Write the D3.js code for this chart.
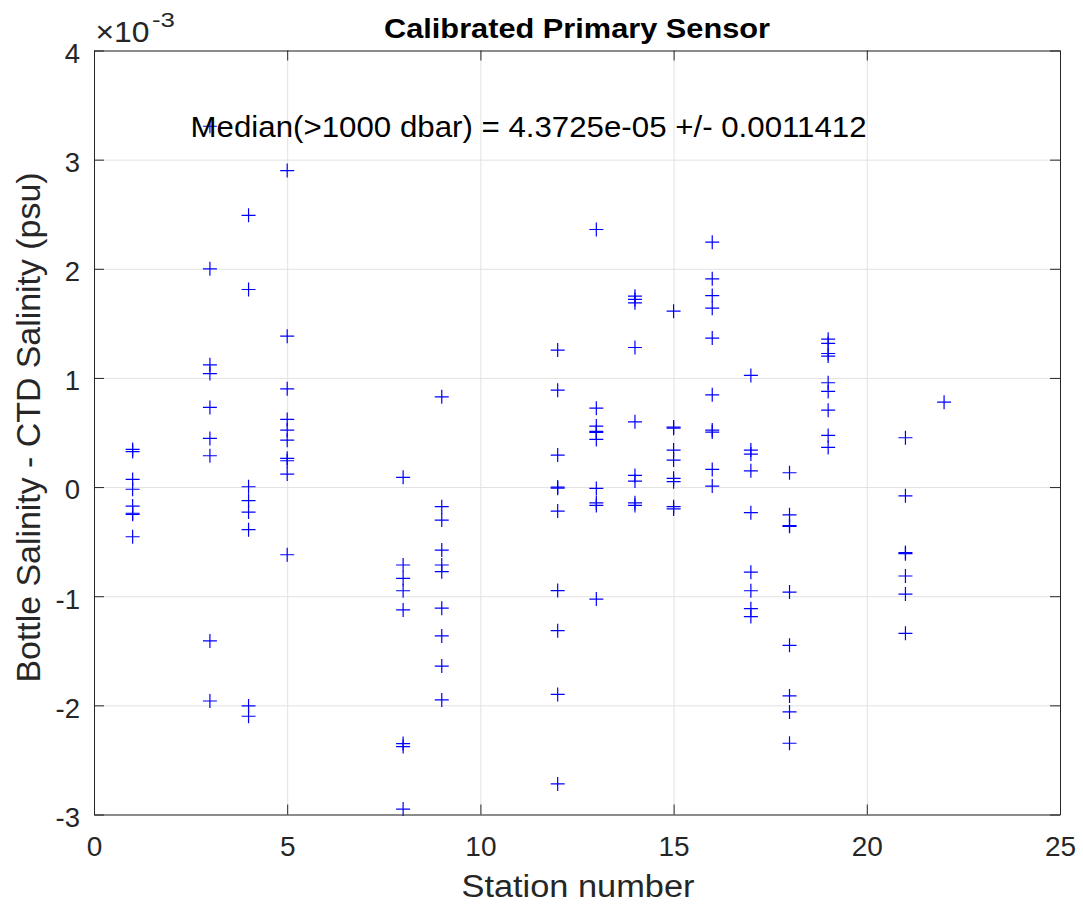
<!DOCTYPE html>
<html>
<head>
<meta charset="utf-8">
<script src="https://cdn.jsdelivr.net/npm/d3@7"></script>
<style>
  html, body { margin: 0; padding: 0; background: #fff; }
  svg { display: block; font-family: "Liberation Sans", Arial, Helvetica, sans-serif; }
</style>
</head>
<body>
<svg id="chart" width="1083" height="905"></svg>
<script>
// ---- data (values in units of 1e-3 psu) ----
const stations = [1, 3, 4, 5, 8, 9, 12, 13, 14, 15, 16, 17, 18, 19, 21, 22];
const salinityDiffs = [
  [0.345, 0.325, 0.07, -0.02, -0.174, -0.24, -0.25, -0.455],
  [3.306, 2.0, 1.12, 1.04, 0.73, 0.446, 0.287, -1.41, -1.96],
  [2.49, 1.81, 0.003, -0.125, -0.229, -0.39, -2.005, -2.10],
  [2.90, 1.383, 0.90, 0.62, 0.522, 0.43, 0.263, 0.241, 0.119, -0.62],
  [0.089, -0.714, -0.836, -0.95, -1.126, -2.35, -2.378, -2.95],
  [0.827, -0.18, -0.302, -0.577, -0.714, -0.775, -1.11, -1.364, -1.64, -1.95],
  [1.255, 0.888, 0.293, 0.0, -0.01, -0.22, -0.948, -1.316, -1.90, -2.72],
  [2.36, 0.723, 0.559, 0.51, 0.50, 0.437, -0.012, -0.144, -0.168, -1.026],
  [1.749, 1.719, 1.688, 1.279, 0.598, 0.107, 0.055, -0.144, -0.168],
  [1.612, 0.55, 0.54, 0.339, 0.247, 0.08, 0.049, -0.18, -0.20],
  [2.244, 1.908, 1.755, 1.639, 1.365, 0.845, 0.522, 0.504, 0.162, 0.009],
  [1.023, 0.339, 0.302, 0.149, -0.235, -0.78, -0.95, -1.114, -1.187],
  [0.131, -0.254, -0.354, -0.36, -0.962, -1.45, -1.914, -2.06, -2.347],
  [1.355, 1.316, 1.224, 1.20, 0.956, 0.876, 0.705, 0.473, 0.363],
  [0.452, -0.08, -0.60, -0.61, -0.815, -0.98, -1.34],
  [0.778]
];
const xTicks = [0, 5, 10, 15, 20, 25];
const yTicks = [-3, -2, -1, 0, 1, 2, 3, 4];
const xDomain = [0, 25];
const yDomain = [-3, 4];
const yExponent = "-3";
const titleText = "Calibrated Primary Sensor";
const xLabelText = "Station number";
const yLabelText = "Bottle Salinity - CTD Salinity (psu)";
const annotationText = "Median(>1000 dbar) = 4.3725e-05 +/- 0.0011412";
const annotationPos = [2.5, 3.3];

// ---- layout ----
const W = 1083, H = 905;
const margin = { left: 94, right: 23, top: 50.5, bottom: 90.5 };
const iw = W - margin.left - margin.right;
const ih = H - margin.top - margin.bottom;
const axisColor = "#262626";
const gridColor = "#e2e2e2";
const fmt = d => String(d); // plain hyphen-minus like MATLAB

const svg = d3.select("#chart");
const g = svg.append("g").attr("transform", `translate(${margin.left},${margin.top})`);

const x = d3.scaleLinear().domain(xDomain).range([0, iw]);
const y = d3.scaleLinear().domain(yDomain).range([ih, 0]);

// grid
g.append("g").attr("class", "gridx")
  .attr("transform", `translate(0,${ih})`)
  .call(d3.axisBottom(x).tickValues(xTicks).tickSize(-ih).tickFormat(""))
  .call(s => s.select(".domain").remove())
  .call(s => s.selectAll("line").attr("stroke", gridColor).attr("stroke-width", 1));
g.append("g").attr("class", "gridy")
  .call(d3.axisLeft(y).tickValues(yTicks).tickSize(-iw).tickFormat(""))
  .call(s => s.select(".domain").remove())
  .call(s => s.selectAll("line").attr("stroke", gridColor).attr("stroke-width", 1));

// points
const points = [];
stations.forEach((st, i) => salinityDiffs[i].forEach(v => points.push({ st, v })));
g.append("g").selectAll("path.pt")
  .data(points)
  .join("path")
  .attr("class", "pt")
  .attr("transform", d => `translate(${x(d.st)},${y(d.v)})`)
  .attr("d", "M-7,0H7M0,-7V7")
  .attr("stroke", "#0000ff")
  .attr("stroke-width", 1.2)
  .attr("fill", "none");

// axes (ticks inside, box)
const tickLen = 10;
const styleAxis = s => {
  s.select(".domain").attr("stroke", axisColor).attr("stroke-width", 1);
  s.selectAll(".tick line").attr("stroke", axisColor).attr("stroke-width", 1);
};
g.append("g").attr("transform", `translate(0,${ih})`)
  .call(d3.axisBottom(x).tickValues(xTicks).tickSizeInner(-tickLen).tickSizeOuter(0).tickPadding(0).tickFormat(fmt))
  .call(styleAxis)
  .call(s => s.selectAll(".tick text")
    .attr("y", 41).attr("dy", 0)
    .attr("fill", axisColor).attr("font-size", 28)
    .attr("font-family", "Liberation Sans, Arial, sans-serif"));
g.append("g")
  .call(d3.axisTop(x).tickValues(xTicks).tickSizeInner(-tickLen).tickSizeOuter(0).tickFormat(""))
  .call(styleAxis);
g.append("g")
  .call(d3.axisLeft(y).tickValues(yTicks).tickSizeInner(-tickLen).tickSizeOuter(0).tickPadding(14).tickFormat(fmt))
  .call(styleAxis)
  .call(s => s.selectAll(".tick text")
    .attr("dy", "0.43em")
    .attr("fill", axisColor).attr("font-size", 27.5)
    .attr("font-family", "Liberation Sans, Arial, sans-serif"));
g.append("g").attr("transform", `translate(${iw},0)`)
  .call(d3.axisRight(y).tickValues(yTicks).tickSizeInner(-tickLen).tickSizeOuter(0).tickFormat(""))
  .call(styleAxis);

// exponent label
const expG = svg.append("g").attr("fill", axisColor);
expG.append("text").attr("x", 95.5).attr("y", 42).attr("font-size", 30)
  .attr("textLength", 54).attr("lengthAdjust", "spacingAndGlyphs").text("\u00d710");
expG.append("text").attr("x", 152).attr("y", 27).attr("font-size", 20)
  .attr("textLength", 23).attr("lengthAdjust", "spacingAndGlyphs").text(yExponent);

// title
svg.append("text")
  .attr("x", margin.left + iw / 2).attr("y", 37.5)
  .attr("text-anchor", "middle").attr("font-weight", "bold").attr("font-size", 28)
  .attr("textLength", 386).attr("lengthAdjust", "spacingAndGlyphs")
  .attr("fill", "#000").text(titleText);

// annotation
g.append("text")
  .attr("x", x(annotationPos[0])).attr("y", y(annotationPos[1]) + 10.5)
  .attr("font-size", 30)
  .attr("textLength", 676).attr("lengthAdjust", "spacingAndGlyphs")
  .attr("fill", "#000").text(annotationText);

// x label
svg.append("text")
  .attr("x", margin.left + iw / 2 + 1).attr("y", 896.5)
  .attr("text-anchor", "middle").attr("font-size", 31)
  .attr("textLength", 233).attr("lengthAdjust", "spacingAndGlyphs")
  .attr("fill", axisColor).text(xLabelText);

// y label
svg.append("text")
  .attr("transform", `translate(40,${margin.top + ih / 2 - 5}) rotate(-90)`)
  .attr("text-anchor", "middle").attr("font-size", 33)
  .attr("textLength", 510).attr("lengthAdjust", "spacingAndGlyphs")
  .attr("fill", axisColor).text(yLabelText);
</script>
</body>
</html>
